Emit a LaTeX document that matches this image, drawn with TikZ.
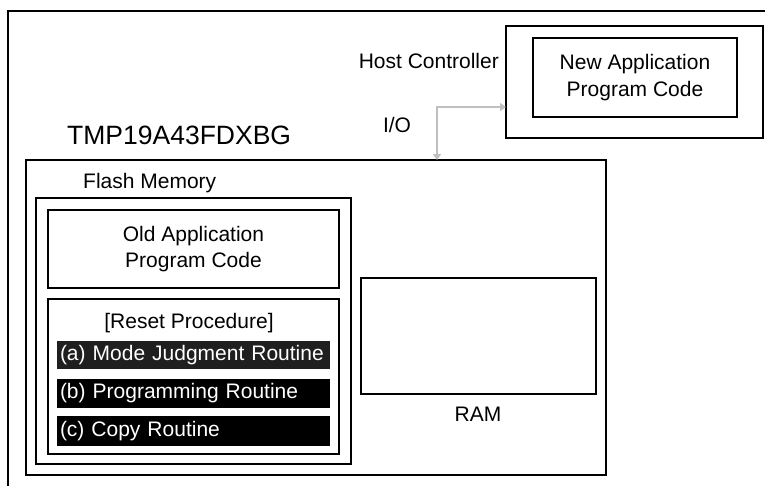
\documentclass[tikz,border=0pt]{standalone}
\usepackage{fontspec}
\setmainfont{Liberation Sans}
\usetikzlibrary{arrows.meta}

\begin{document}
\begin{tikzpicture}[
  x=1pt, y=-1pt,
  outer frame/.style={line width=2.4pt},
  heavy box/.style={draw, line width=2.4pt, inner sep=0pt, outer sep=0pt},
  light box/.style={draw, line width=1.4pt, inner sep=0pt, outer sep=0pt},
  mid box/.style={draw, line width=2pt, inner sep=0pt, outer sep=0pt, align=center,
    font=\fontsize{21}{26}\selectfont},
  label/.style={inner sep=0pt, font=\fontsize{21}{27}\selectfont},
  routine/.style={inner xsep=3pt, inner ysep=0pt, text width=267pt, align=left,
    text=white, font=\fontsize{21}{25}\selectfont},
  io link/.style={draw=black!25, line width=2.6pt,
    {Triangle[length=6pt,width=8pt]}-{Triangle[length=6pt,width=8pt]}}
]
  \useasboundingbox (0,0) rectangle (765,485);

  % Outer frame, running off the right and bottom edges
  \draw[outer frame] (8,490) -- (8,11) -- (770,11);

  % Host controller side
  \node[heavy box, minimum width=257pt, minimum height=112pt] (host) at (634.5,82) {};
  \node[light box, align=center, font=\fontsize{21}{27}\selectfont,
        minimum width=204pt, minimum height=79pt] (newcode) at (635,77.5)
        {New Application\\Program Code};
  \node[label, anchor=base east] (hostlabel) at (499,68) {Host Controller};

  % Microcontroller
  \node[light box, minimum width=580pt, minimum height=315pt] (chip) at (316,317.5) {};
  \node[label, anchor=base west, font=\fontsize{26.5}{30}\selectfont] (chiplabel) at (67,144) {TMP19A43FDXBG};

  % I/O link between host and chip
  \coordinate (io corner) at (437,107);
  \draw[io link] (io corner -| host.west) -- (io corner) -- (io corner |- chip.north);
  \node[label, anchor=base] (iolabel) at (397,132) {I/O};

  % Flash memory
  \node[heavy box, minimum width=315pt, minimum height=266pt] (flash) at (193.5,331) {};
  \node[label, anchor=base west] (flashlabel) at (83,188) {Flash Memory};

  \node[mid box, minimum width=291pt, minimum height=78pt] (oldcode) at (193.5,249)
    {Old Application\\Program Code};
  \node[mid box, minimum width=291pt, minimum height=155pt] (reset) at (193.5,376.5) {};
  \node[label, anchor=base] (resetlabel) at (189,328) {[Reset Procedure]};

  % Routines of the reset procedure
  \node[routine, fill=black!88, minimum height=28pt] (judge) at (193.5,355) {(a) Mode Judgment Routine};
  \node[routine, fill=black, minimum height=29pt] (program) at (193.5,393.5) {(b) Programming Routine};
  \node[routine, fill=black, minimum height=30pt] (copy) at (193.5,431) {(c) Copy Routine};

  % RAM
  \node[mid box, minimum width=235pt, minimum height=116pt] (ram) at (478.5,336) {};
  \node[label, anchor=base] (ramlabel) at (478,421) {RAM};
\end{tikzpicture}
\end{document}
